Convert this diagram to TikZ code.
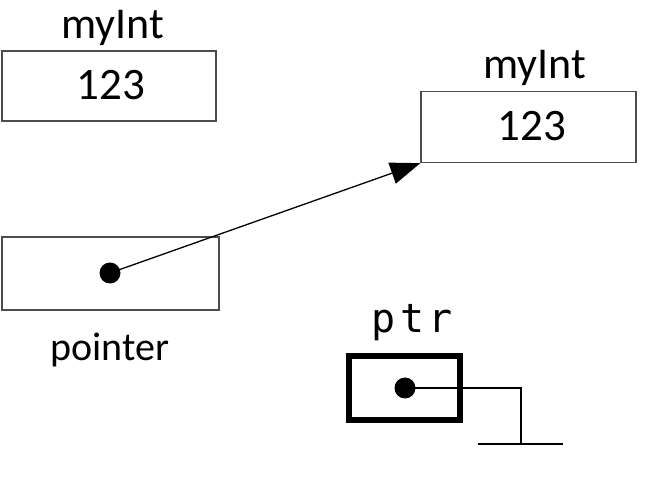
\documentclass[tikz,border=0pt]{standalone}
\usepackage{fontspec}
\setmainfont{Carlito}
\newfontfamily\monofnt[LetterSpace=12]{DejaVu Sans Mono}
\usetikzlibrary{arrows.meta}
\begin{document}
\begin{tikzpicture}[x=1pt,y=-1pt,
  cellbox/.style={draw=black!70, line width=1.3pt, inner sep=0pt},
  lbl/.style={inner sep=0pt, anchor=base, font=\fontsize{44}{48}\selectfont},
  numlbl/.style={inner sep=0pt, anchor=base, font=\fontsize{45}{49}\selectfont},
  dotnode/.style={circle, fill=black, inner sep=0pt, minimum size=21pt},
  ptrbox/.style={draw=black, line width=6pt, inner sep=0pt},
  wire/.style={line width=2.5pt, black}
]
\useasboundingbox[fill=white] (0,0) rectangle (646,486);

% first myInt
\node[cellbox, minimum width=214, minimum height=70] (b1) at (109,86) {};
\node[lbl] (t1) at (113,39) {myInt};
\node[numlbl] (n1) at (111,100) {123};

% second myInt
\node[cellbox, minimum width=215, minimum height=71] (b2) at (528.5,127) {};
\node[lbl] (t2) at (535,79) {myInt};
\node[numlbl] (n2) at (532,141) {123};

% pointer
\node[cellbox, minimum width=217, minimum height=73] (b3) at (110.5,273.5) {};
\node[dotnode] (d1) at (110,273) {};
\node[inner sep=0pt, anchor=base, font=\fontsize{40}{44}\selectfont] (pl) at (110,361) {pointer};
\draw[line width=1.3pt, -{Triangle[length=30pt,width=22pt]}] (d1.center) -- (b2.south west);

% ptr null pointer
\node[inner sep=0pt, anchor=base west, font=\monofnt\fontsize{40}{44}\selectfont] (pt) at (371,333) {ptr};
\node[ptrbox, minimum width=111, minimum height=64] (b4) at (404.5,388) {};
\node[dotnode] (d2) at (405,388) {};
\coordinate (g) at (521,444);
\coordinate (gl) at (478,444);
\coordinate (gr) at (563,444);
\draw[wire] (d2.center) -| (g);
\draw[wire] (gl) -- (gr);
\end{tikzpicture}
\end{document}
